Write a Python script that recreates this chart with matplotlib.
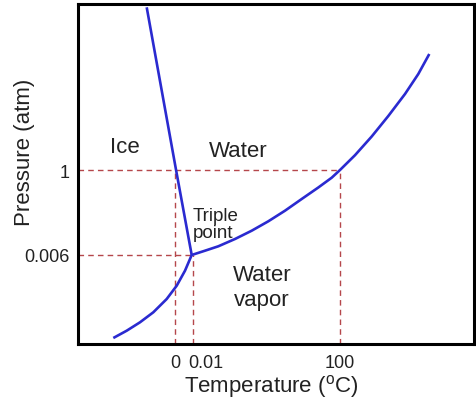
import matplotlib
matplotlib.use("Agg")
import matplotlib.pyplot as plt
from matplotlib.transforms import ScaledTranslation

plt.rcParams['font.family'] = ['Liberation Sans', 'DejaVu Sans']
plt.rcParams['mathtext.fontset'] = 'custom'
plt.rcParams['mathtext.rm'] = 'Liberation Sans'

# Schematic phase diagram of water (positions in schematic units)
fusion_x = [68.7, 98.0, 113.7]
fusion_y = [336.7, 174.3, 89.0]

vapor_x = [113.7, 127.0, 140.3, 157.0, 173.7, 190.3, 207.0, 223.7, 240.3, 253.7,
           262.0, 277.0, 293.7, 310.3, 327.0, 340.3, 351.3]
vapor_y = [89.0, 93.3, 97.7, 105.0, 113.3, 122.7, 133.3, 145.0, 156.5, 166.3,
           174.0, 188.8, 207.5, 228.0, 250.0, 270.0, 290.0]

subl_x = [35.3, 48.7, 62.0, 75.3, 88.7, 98.7, 107.0, 113.7]
subl_y = [6.0, 13.3, 21.7, 31.7, 45.0, 58.3, 73.3, 89.0]

xtick_pos = [97, 115, 262]
xtick_labels = ["0", "0.01", "100"]
ytick_pos = [174, 89]
ytick_labels = ["1", "0.006"]

blue = '#2a2ad0'
red = '#b5474b'
txt = '#222222'

fig = plt.figure(figsize=(4.77, 4.02), dpi=100)
ax = fig.add_axes([78/477, 1 - 345/402, 396/477, 340/402])
ax.set_xlim(0, 396)
ax.set_ylim(0, 340)

dash = dict(color=red, lw=1.0, ls=(0, (4, 3)), zorder=1)
ax.plot([0, xtick_pos[2]], [ytick_pos[0]] * 2, **dash)
ax.plot([0, xtick_pos[1]], [ytick_pos[1]] * 2, **dash)
ax.plot([xtick_pos[0]] * 2, [0, ytick_pos[0]], **dash)
ax.plot([xtick_pos[1]] * 2, [0, ytick_pos[1]], **dash)
ax.plot([xtick_pos[2]] * 2, [0, ytick_pos[0]], **dash)

for xs, ys in [(fusion_x, fusion_y), (vapor_x, vapor_y), (subl_x, subl_y)]:
    ax.plot(xs, ys, color=blue, lw=1.9, solid_capstyle='butt',
            solid_joinstyle='round', zorder=3)

ax.text(47, 198, "Ice", fontsize=16, color=txt, ha='center', va='center')
ax.text(160, 194, "Water", fontsize=16, color=txt, ha='center', va='center')
ax.text(115, 120, "Triple\npoint", fontsize=13.5, color=txt, ha='left', va='center',
        linespacing=1.0)
ax.text(184, 57, "Water\nvapor", fontsize=16, color=txt, ha='center', va='center',
        linespacing=1.2)

ax.set_xticks(xtick_pos)
ax.set_xticklabels(xtick_labels)
ax.set_yticks(ytick_pos)
ax.set_yticklabels(ytick_labels)
ax.tick_params(length=0, labelsize=13, colors=txt)
ax.tick_params(axis='x', pad=7)
ax.tick_params(axis='y', pad=6)

# shift the "0.01" label so it sits just right of "0", as in the reference
lbl = ax.get_xticklabels()[1]
lbl.set_horizontalalignment('left')
lbl.set_transform(lbl.get_transform() + ScaledTranslation(-5/100, 0, fig.dpi_scale_trans))

ax.set_xlabel(r'Temperature ($\mathregular{^o}$C)', fontsize=16, color=txt)
ax.xaxis.set_label_coords((271 - 78) / 396, (345 - 387) / 340)
ax.set_ylabel('Pressure (atm)', fontsize=16, color=txt)
ax.yaxis.set_label_coords((25 - 78) / 396, (345 - 152) / 340)
ax.xaxis.label.set_va('center')
ax.yaxis.label.set_va('center')

for s in ax.spines.values():
    s.set_linewidth(2.2)
    s.set_color('black')

fig.savefig('out.png', dpi=100)
